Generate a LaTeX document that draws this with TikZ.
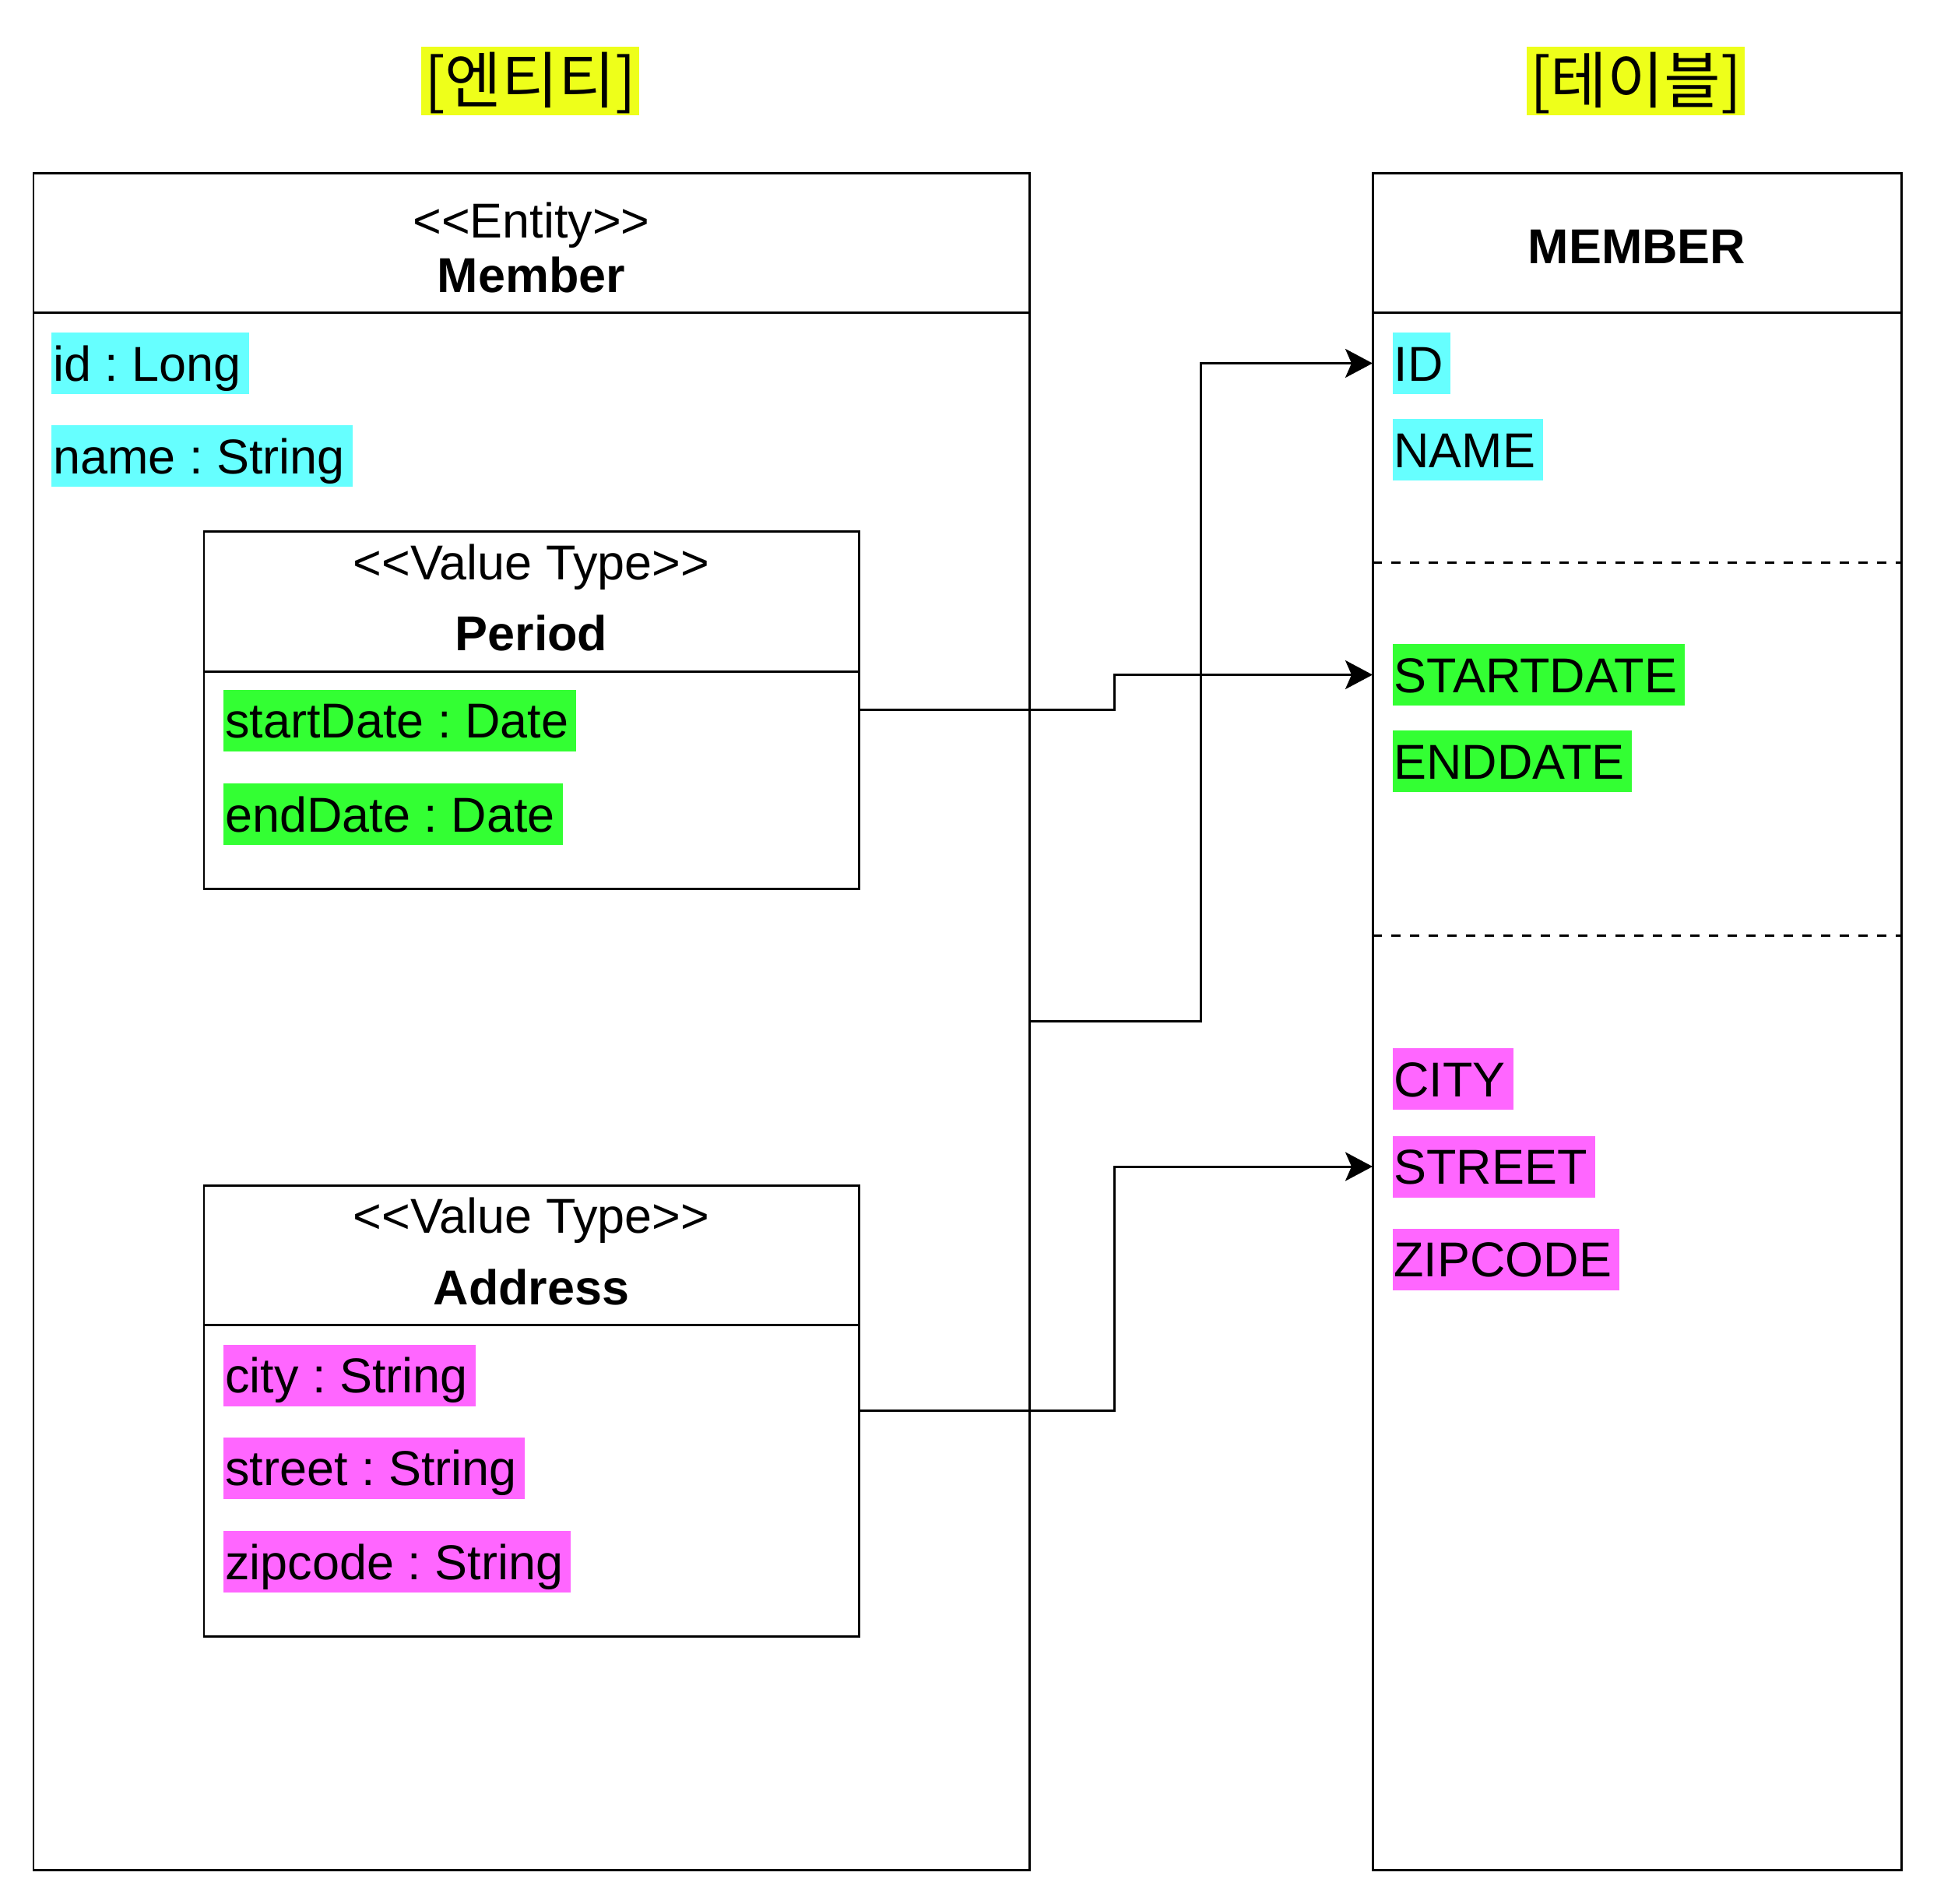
\documentclass[tikz,border=0pt]{standalone}
\usepackage{fontspec}
\setmainfont{Liberation Sans}[Ligatures=TeXOff]
\newfontfamily\cjk{Noto Sans CJK KR}
\usepackage{xcolor}
\usetikzlibrary{arrows.meta}
\definecolor{titlebg}{HTML}{EEFF1A}
\definecolor{keybg}{HTML}{66FFFF}
\definecolor{periodbg}{HTML}{33FF33}
\definecolor{addressbg}{HTML}{FF66FF}
\frenchspacing

\begin{document}
\begin{tikzpicture}[line width=0.85pt,font=\fontsize{17.9pt}{21.5pt}\selectfont,
  box/.style={draw,rectangle,anchor=north west,inner sep=0pt,outer sep=0pt},
  attr/.style={fill=#1,anchor=west,inner xsep=0pt,inner ysep=0pt,minimum height=0.79cm,text height=12.9pt,text depth=0pt,
    execute at begin node={\hspace{0.02cm}},execute at end node={\hspace{0.1cm}}},
  heading/.style={fill=titlebg,inner xsep=0.04cm,inner ysep=0pt,minimum height=0.88cm,text height=18pt,text depth=1.8pt,font=\cjk\fontsize{22.5pt}{27pt}\selectfont},
  link/.style={-{Stealth[length=0.35cm,width=0.37cm,inset=0.08cm]}},
  rowsep/.style={dash pattern=on 0.12cm off 0.12cm}]
\useasboundingbox (0,0) rectangle (24.88,-24.44);
\node[heading] (entitytitle) at (6.81,-1.04) {[엔티티]};
\node[heading] (tabletitle) at (21.01,-1.04) {[테이블]};
% entity side
\node[box,minimum width=12.79cm,minimum height=21.79cm] (member) at (0.43,-2.22) {};
\draw (0.43,-4.01) -- (13.22,-4.01);
\node[anchor=base] (memberstereo) at (6.825,-3.05) {<<Entity>>};
\node[anchor=base] (membername) at (6.825,-3.75) {\textbf{Member}};
\node[attr=keybg] (id) at (0.65,-4.665) {id : Long};
\node[attr=keybg] (name) at (0.65,-5.855) {name : String};
\node[box,minimum width=8.41cm,minimum height=4.59cm] (period) at (2.62,-6.82) {};
\draw (2.62,-8.62) -- (11.03,-8.62);
\node[anchor=base] (periodstereo) at (6.825,-7.44) {<<Value Type>>};
\node[anchor=base] (periodname) at (6.825,-8.35) {\textbf{Period}};
\node[attr=periodbg] (startdate) at (2.86,-9.25) {startDate : Date};
\node[attr=periodbg] (enddate) at (2.86,-10.455) {endDate : Date};
\node[box,minimum width=8.41cm,minimum height=5.79cm] (address) at (2.62,-15.22) {};
\draw (2.62,-17.01) -- (11.03,-17.01);
\node[anchor=base] (addressstereo) at (6.825,-15.83) {<<Value Type>>};
\node[anchor=base] (addressname) at (6.825,-16.75) {\textbf{Address}};
\node[attr=addressbg] (city) at (2.86,-17.66) {city : String};
\node[attr=addressbg] (street) at (2.86,-18.85) {street : String};
\node[attr=addressbg] (zipcode) at (2.86,-20.055) {zipcode : String};
% table side
\node[box,minimum width=6.79cm,minimum height=21.79cm] (table) at (17.63,-2.22) {};
\draw (17.63,-4.01) -- (24.42,-4.01);
\draw[rowsep] (17.63,-7.22) -- (24.42,-7.22);
\draw[rowsep] (17.63,-12.01) -- (24.42,-12.01);
\node[anchor=base] (tablename) at (21.025,-3.38) {\textbf{MEMBER}};
\node[attr=keybg] (colid) at (17.87,-4.665) {ID};
\node[attr=keybg] (colname) at (17.87,-5.775) {NAME};
\node[attr=periodbg] (colstart) at (17.87,-8.665) {STARTDATE};
\node[attr=periodbg] (colend) at (17.87,-9.775) {ENDDATE};
\node[attr=addressbg] (colcity) at (17.87,-13.855) {CITY};
\node[attr=addressbg] (colstreet) at (17.87,-14.98) {STREET};
\node[attr=addressbg] (colzip) at (17.87,-16.17) {ZIPCODE};
% mappings
\draw[link] (member.east) -- ++(2.2,0) |- (table.west |- colid.center);
\draw[link] (period.east) -- ++(3.28,0) |- (table.west |- colstart.center);
\draw[link] (address.east) -- ++(3.28,0) |- (table.west |- colstreet.center);
\end{tikzpicture}
\end{document}
